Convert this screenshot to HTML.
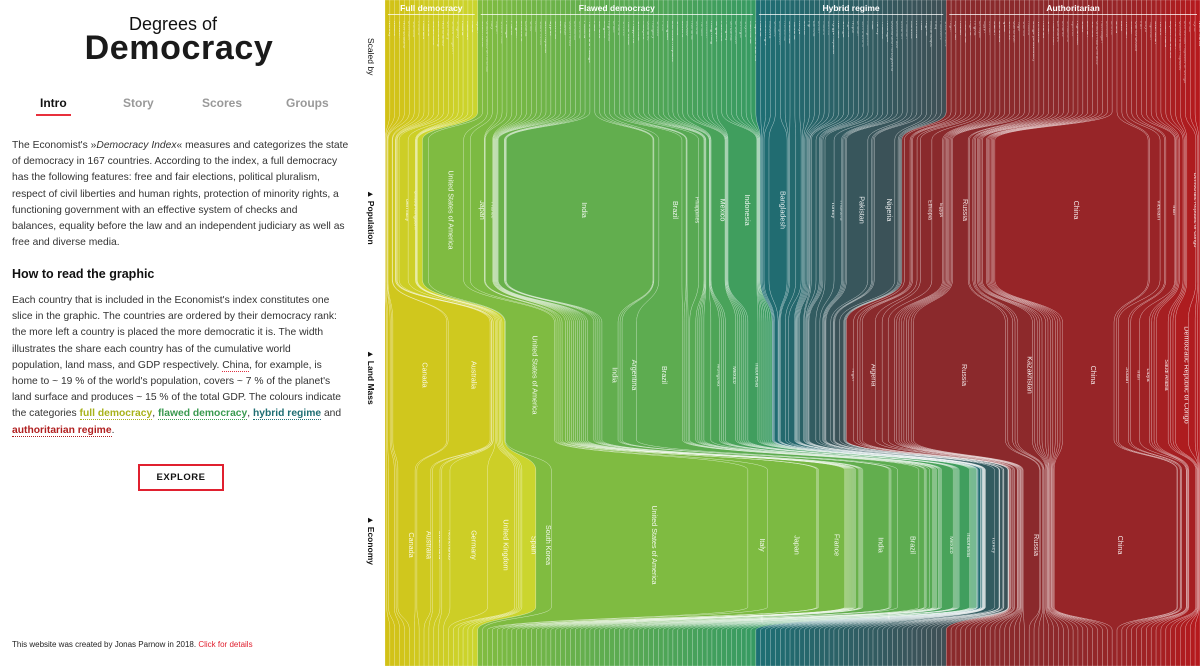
<!DOCTYPE html>
<html><head><meta charset="utf-8">
<style>
*{margin:0;padding:0;box-sizing:border-box}
body{width:1200px;height:666px;overflow:hidden;background:#fff;font-family:"Liberation Sans",Arial,sans-serif;position:relative;color:#222}
#left{position:absolute;left:0;top:0;width:360px;height:666px}
.t1{position:absolute;left:0;width:346px;text-align:center;top:14px;font-size:18px;color:#111}
.t2{position:absolute;left:0;width:358px;text-align:center;top:29px;font-size:34px;font-weight:bold;color:#1a1a1a;letter-spacing:0.6px}
.tab{position:absolute;top:96px;font-size:12px;font-weight:bold;color:#999}
.tab.on{color:#111}
.tab.on:after{content:"";position:absolute;left:-4px;right:-4px;top:18px;height:2px;background:#e8303c}
p{position:absolute;left:12px;width:346px;font-size:10.3px;line-height:16.2px;color:#333;white-space:nowrap}
h3{position:absolute;left:12px;top:267px;font-size:12.5px;font-weight:bold;color:#111}
.u{border-bottom:1px dotted}
#explore{position:absolute;left:138px;top:464px;width:86px;height:27px;border:2px solid #e0202f;font-size:9.5px;font-weight:bold;text-align:center;line-height:23px;letter-spacing:0.5px;color:#111}
#foot{position:absolute;left:12px;top:640px;font-size:8px;color:#222}
.ax{position:absolute;left:366px;font-size:8.5px;color:#111;transform-origin:0 0;transform:rotate(90deg);white-space:nowrap}
svg{position:absolute;left:385px;top:0}
</style></head><body>
<div id="left">
<div class="t1">Degrees of</div>
<div class="t2">Democracy</div>
<div class="tab on" style="left:40px">Intro</div>
<div class="tab" style="left:123px">Story</div>
<div class="tab" style="left:202px">Scores</div>
<div class="tab" style="left:286px">Groups</div>
<p style="top:138px">The Economist's »<i>Democracy Index</i>« measures and categorizes the state<br>of democracy in 167 countries. According to the index, a full democracy<br>has the following features: free and fair elections, political pluralism,<br>respect of civil liberties and human rights, protection of minority rights, a<br>functioning government with an effective system of checks and<br>balances, equality before the law and an independent judiciary as well as<br>free and diverse media.</p>
<h3>How to read the graphic</h3>
<p style="top:293px">Each country that is included in the Economist's index constitutes one<br>slice in the graphic. The countries are ordered by their democracy rank:<br>the more left a country is placed the more democratic it is. The width<br>illustrates the share each country has of the cumulative world<br>population, land mass, and GDP respectively. <span class="u" style="border-color:#e03040">China</span>, for example, is<br>home to ~ 19 % of the world's population, covers ~ 7 % of the planet's<br>land surface and produces ~ 15 % of the total GDP. The colours indicate<br>the categories <b class="u" style="color:#a8b21a">full democracy</b>, <b class="u" style="color:#3a9a50">flawed democracy</b>, <b class="u" style="color:#1f6e73">hybrid regime</b> and<br><b class="u" style="color:#b01e1e">authoritarian regime</b>.</p>
<div id="explore">EXPLORE</div>
<div id="foot">This website was created by Jonas Parnow in 2018. <span style="color:#e0202f">Click for details</span></div>
</div>
<div class="ax" style="top:38px;left:376px">Scaled by</div>
<div class="ax" style="top:190px;left:376px;font-weight:bold">▲ Population</div>
<div class="ax" style="top:350px;left:376px;font-weight:bold">▲ Land Mass</div>
<div class="ax" style="top:516px;left:376px;font-weight:bold">▲ Economy</div>
<svg id="chart" width="815" height="666"></svg>
<script>
const categoryNames=["Full democracy","Flawed democracy","Hybrid regime","Authoritarian"];
const categoryCounts=[19,57,39,52];
const names=["Norway","Iceland","Sweden","New Zealand","Denmark","Canada","Ireland","Australia","Finland","Switzerland","Luxembourg","Netherlands","Germany","United Kingdom","Uruguay","Austria","Mauritius","Malta","Spain",
"South Korea","United States of America","Italy","Japan","Costa Rica","Portugal","France","Belgium","Botswana","Estonia","Chile","Israel","Cabo Verde","Czech Republic","Cyprus","Slovenia","Latvia","Taiwan","South Africa","Lithuania","Slovakia","Panama","Trinidad and Tobago","India","Jamaica","Bulgaria","Argentina","Brazil","Poland","Greece","Timor-Leste","Philippines","Colombia","Malaysia","Suriname","Hungary","Croatia","Peru","Mongolia","Dominican Republic","Ghana","Lesotho","Mexico","Romania","Serbia","Tunisia","Ecuador","Hong Kong","Singapore","Indonesia","Paraguay","Sri Lanka","El Salvador","Senegal","Guyana","Macedonia","Papua New Guinea",
"Albania","Montenegro","Moldova","Ukraine","Bangladesh","Honduras","Guatemala","Tanzania","Kenya","Bolivia","Fiji","Zambia","Benin","Malawi","Liberia","Kyrgyz Republic","Namibia","Georgia","Uganda","Nepal","Bhutan","Sierra Leone","Madagascar","Mali","Turkey","Thailand","Nicaragua","Bosnia and Herzegovina","Burkina Faso","Lebanon","Pakistan","Morocco","Armenia","Haiti","Nigeria","Mozambique","Iraq","Palestine","Cote d'Ivoire",
"Niger","Myanmar","Kuwait","Mauritania","Algeria","Angola","Ethiopia","Egypt","Jordan","Gabon","Cambodia","Qatar","Comoros","Cameroon","Togo","Guinea","Russia","Congo (Brazzaville)","Venezuela","Rwanda","Oman","Kazakhstan","Zimbabwe","Belarus","Swaziland","Djibouti","Afghanistan","Cuba","Bahrain","Gambia","United Arab Emirates","Azerbaijan","Burundi","Eritrea","China","Laos","Vietnam","Sudan","Guinea-Bissau","Iran","Libya","Tajikistan","Uzbekistan","Yemen","Saudi Arabia","Equatorial Guinea","Turkmenistan","Central African Republic","Democratic Republic of Congo","Chad","Syria","North Korea"];
const keyNames=["Canada","Australia","Switzerland","Netherlands","Germany","United Kingdom","Spain","Sweden",
"South Korea","United States of America","Italy","Japan","France","South Africa","India","Argentina","Brazil","Poland","Philippines","Colombia","Peru","Mongolia","Mexico","Indonesia",
"Ukraine","Bangladesh","Tanzania","Kenya","Turkey","Thailand","Pakistan","Nigeria","Mali","Namibia","Bolivia","Mozambique","Morocco","Uganda","Nepal",
"Niger","Myanmar","Algeria","Angola","Ethiopia","Egypt","Russia","Kazakhstan","China","Vietnam","Sudan","Iran","Libya","Saudi Arabia","Democratic Republic of Congo","Chad","Afghanistan","Venezuela"];
const keyPop=[0.5,0.33,0.1,0.23,1.1,0.88,0.62,0.13, 0.7,4.3,0.8,1.7,0.9,0.75,17.8,0.6,2.8,0.5,1.4,0.65,0.4,0.04,1.7,3.5, 0.6,2.2,0.75,0.65,1.1,0.9,2.6,2.5,0.25,0.03,0.15,0.4,0.47,0.58,0.39, 0.3,0.7,0.55,0.4,1.4,1.3,1.9,0.24,18.6,1.3,0.55,1.1,0.09,0.45,1.1,0.2,0.48,0.42];
const keyLand=[6.7,5.2,0.03,0.03,0.24,0.16,0.34,0.3, 0.07,6.1,0.2,0.25,0.4,0.8,2.0,1.8,5.7,0.2,0.2,0.76,0.86,1.05,1.3,1.25, 0.45,0.1,0.6,0.4,0.5,0.35,0.6,0.6,0.85,0.55,0.73,0.53,0.3,0.16,0.1, 0.9,0.5,1.6,0.85,0.75,0.75,11.4,1.85,6.4,0.22,1.25,1.1,1.2,1.45,1.6,0.85,0.44,0.6];
const keyGdp=[2.1,1.7,0.9,1.0,4.6,3.3,1.7,0.7, 1.9,24,2.4,6,3.2,0.4,3.2,0.8,2.6,0.65,0.4,0.4,0.25,0.01,1.4,1.3, 0.1,0.3,0.06,0.1,1.1,0.55,0.3,0.5,0.02,0.02,0.05,0.02,0.15,0.03,0.03, 0.01,0.09,0.2,0.15,0.1,0.3,2,0.2,15,0.3,0.1,0.55,0.05,0.85,0.05,0.01,0.03,0.3];
const fillerPop=[0.06,0.06,0.15,0.15];
const fillerLand=[0.17,0.25,0.1,0.3];
const fillerGdp=[0.22,0.12,0.025,0.09];

const palette=[["#d2c116","#cbd52e"],["#80bc40","#379a62"],["#1d6f74","#3f4f55"],["#8a2a2c","#b5191d"]];
const W=815, NS="http://www.w3.org/2000/svg";
const svg=document.getElementById('chart');
function mix(a,b,t){const p=s=>[1,3,5].map(i=>parseInt(s.substr(i,2),16));const A=p(a),B=p(b);return 'rgb('+A.map((v,i)=>Math.round(v+(B[i]-v)*t)).join(',')+')';}
const cat=[];categoryCounts.forEach((c,k)=>{for(let i=0;i<c;i++)cat.push(k);});
function vals(keyArr,filler){return names.map((n,i)=>{const j=keyNames.indexOf(n);return j>=0?keyArr[j]:filler[cat[i]];});}
const levels=[names.map(()=>1),vals(keyPop,fillerPop),vals(keyLand,fillerLand),vals(keyGdp,fillerGdp),names.map(()=>1)];
const xs=levels.map(v=>{const tot=v.reduce((a,b)=>a+b,0);let acc=0;return v.map(x=>{const s=acc/tot*W;acc+=x;return [s,acc/tot*W];});});
const Y={t0:112,p0:140,p1:280,l0:322,l1:440,e0:470,e1:607,b0:630};
const labelY=[0,210,375,545];
const catIdx=[0,0,0,0];
for(let i=0;i<names.length;i++){
  const L=xs.map(l=>l[i][0]),R=xs.map(l=>l[i][1]);
  const k=cat[i];const pos=catIdx[k]++;let t=categoryCounts[k]>1?pos/(categoryCounts[k]-1):0;
  if(k===3)t=Math.pow(t,3);
  const d=`M${L[0]},0V${Y.t0}C${L[0]},126 ${L[1]},126 ${L[1]},${Y.p0}V${Y.p1}C${L[1]},301 ${L[2]},301 ${L[2]},${Y.l0}V${Y.l1}C${L[2]},455 ${L[3]},455 ${L[3]},${Y.e0}V${Y.e1}C${L[3]},618 ${L[4]},618 ${L[4]},${Y.b0}V666`+
    `H${R[4]}V${Y.b0}C${R[4]},618 ${R[3]},618 ${R[3]},${Y.e1}V${Y.e0}C${R[3]},455 ${R[2]},455 ${R[2]},${Y.l1}V${Y.l0}C${R[2]},301 ${R[1]},301 ${R[1]},${Y.p1}V${Y.p0}C${R[1]},126 ${R[0]},126 ${R[0]},${Y.t0}V0Z`;
  const p=document.createElementNS(NS,'path');
  p.setAttribute('d',d);
  p.setAttribute('fill',mix(palette[k][0],palette[k][1],t));
  p.setAttribute('stroke','rgba(255,255,255,0.4)');
  p.setAttribute('stroke-width','0.5');
  
  
  svg.appendChild(p);
  const tl=document.createElementNS(NS,'text');
  const cx0=(L[0]+R[0])/2+1.6;
  tl.setAttribute('transform',`translate(${cx0},21) rotate(90)`);
  tl.setAttribute('font-size','4.6');tl.setAttribute('fill','rgba(255,255,255,0.85)');
  tl.setAttribute('font-family','Liberation Sans, sans-serif');
  tl.textContent=names[i];
  
  
  svg.appendChild(tl);
  for(let l=1;l<=3;l++){
    const w=R[l]-L[l];
    if(w<7)continue;
    const tx=document.createElementNS(NS,'text');
    tx.setAttribute('transform',`translate(${(L[l]+R[l])/2+2.5},${labelY[l]}) rotate(90)`);
    tx.setAttribute('text-anchor','middle');
    tx.setAttribute('font-size',w>12?'7.2':'5.5');
    tx.setAttribute('fill','rgba(255,255,255,0.9)');
    tx.setAttribute('font-family','Liberation Sans, sans-serif');
    tx.textContent=names[i];
    
    
    svg.appendChild(tx);
  }
}
let start=0;
categoryCounts.forEach((c,k)=>{
  const x0=xs[0][start][0], x1=xs[0][start+c-1][1];start+=c;
  const ln=document.createElementNS(NS,'line');
  ln.setAttribute('x1',x0+3);ln.setAttribute('x2',x1-3);ln.setAttribute('y1',14.5);ln.setAttribute('y2',14.5);
  ln.setAttribute('stroke','rgba(255,255,255,0.75)');ln.setAttribute('stroke-width','1');
  
  
  svg.appendChild(ln);
  const tx=document.createElementNS(NS,'text');
  tx.setAttribute('x',(x0+x1)/2);tx.setAttribute('y',11);tx.setAttribute('text-anchor','middle');
  tx.setAttribute('font-size','8.5');tx.setAttribute('font-weight','bold');tx.setAttribute('fill','#fff');
  tx.setAttribute('font-family','Liberation Sans, sans-serif');
  tx.textContent=categoryNames[k];
  
  
  svg.appendChild(tx);
});
</script>
</body></html>
